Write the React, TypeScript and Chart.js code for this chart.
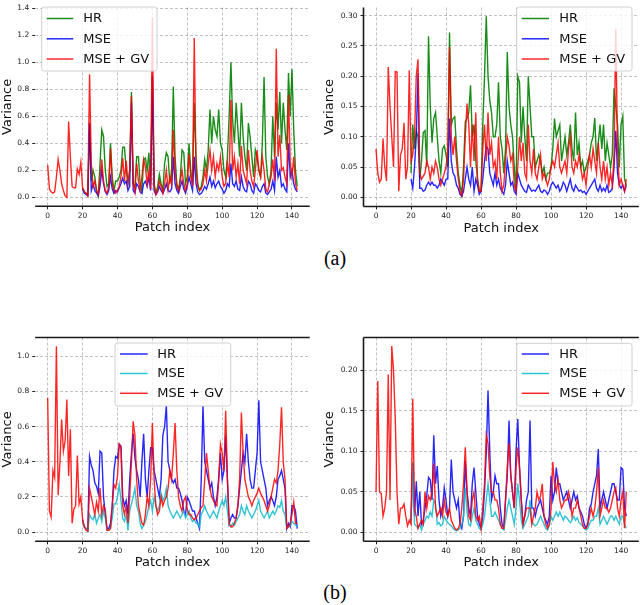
import React, { useEffect, useRef } from "react";
import { Chart, registerables } from "chart.js";

Chart.register(...registerables);

// ---------- data ----------
const SERIES_START = 20; // HR and MSE curves begin at patch 20
const X_TICKS = [0, 20, 40, 60, 80, 100, 120, 140];
const Y_TICKS_A1 = [0, 0.2, 0.4, 0.6, 0.8, 1.0, 1.2, 1.4];
const Y_TICKS_A2 = [0, 0.05, 0.1, 0.15, 0.2, 0.25, 0.3];
const Y_TICKS_B1 = [0, 0.2, 0.4, 0.6, 0.8, 1.0];
const Y_TICKS_B2 = [0, 0.05, 0.1, 0.15, 0.2];
const LABELS = ["HR", "MSE", "MSE + GV"];

// (a) left
const A1_GV = [
  0.24, 0.06, 0.04, 0.03, 0.04, 0.15, 0.28, 0.2, 0.1, 0.05,
  0.01, 0.0, 0.56, 0.3, 0.08, 0.07, 0.07, 0.21, 0.17, 0.26,
  0.07, 0.04, 0.03, 0.01, 0.91, 0.25, 0.08, 0.12, 0.05, 0.02,
  0.15, 0.28, 0.12, 0.05, 0.03, 0.08, 0.36, 0.1, 0.05, 0.03,
  0.05, 0.08, 0.15, 0.29, 0.12, 0.27, 0.1, 0.2, 0.75, 0.1,
  0.04, 0.25, 0.12, 0.05, 0.15, 0.28, 0.22, 0.1, 0.2, 0.06,
  1.33, 0.08, 0.02, 0.05, 0.12, 0.08, 0.03, 0.1, 0.2, 0.06,
  0.15, 0.1, 0.5, 0.2, 0.08, 0.05, 0.12, 0.2, 0.1, 0.05,
  0.1, 0.32, 0.15, 0.08, 1.18, 0.2, 0.08, 0.05, 0.06, 0.1,
  0.2, 0.12, 0.25, 0.35, 0.2, 0.3, 0.15, 0.25, 0.2, 0.3,
  0.15, 0.08, 0.1, 0.25, 0.15, 0.72, 0.2, 0.3, 0.15, 0.25,
  0.1, 0.38, 0.2, 0.15, 0.1, 0.35, 0.2, 0.12, 0.08, 0.2,
  0.35, 0.2, 0.15, 0.3, 0.2, 0.06, 0.04, 0.1, 0.15, 0.28,
  0.12, 1.1, 0.3, 0.46, 0.2, 0.22, 0.15, 0.1, 0.76, 0.25,
  0.15, 0.3, 0.1, 0.05,
];
const A1_HR = [
  0.07, 0.04, 0.03, 0.02, 0.55, 0.12, 0.2, 0.15, 0.05, 0.01,
  0.25, 0.5, 0.45, 0.2, 0.08, 0.1, 0.4, 0.15, 0.05, 0.12,
  0.12, 0.15, 0.2, 0.37, 0.37, 0.2, 0.1, 0.2, 0.78, 0.1,
  0.08, 0.3, 0.3, 0.1, 0.05, 0.28, 0.29, 0.2, 0.33, 0.1,
  0.9, 0.1, 0.03, 0.08, 0.17, 0.1, 0.05, 0.25, 0.33, 0.3,
  0.1, 0.2, 0.82, 0.3, 0.1, 0.05, 0.15, 0.35, 0.33, 0.1,
  0.15, 0.4, 0.2, 0.1, 0.7, 0.3, 0.1, 0.05, 0.08, 0.15,
  0.28, 0.2, 0.35, 0.65, 0.4, 0.6, 0.5, 0.45, 0.65, 0.4,
  0.35, 0.2, 0.15, 0.3, 0.6, 1.0, 0.57, 0.4, 0.7, 0.5,
  0.3, 0.7, 0.45, 0.3, 0.2, 0.55, 0.45, 0.3, 0.15, 0.35,
  0.3, 0.2, 0.15, 0.4, 0.89, 0.3, 0.15, 0.1, 0.2, 0.6,
  0.3, 0.7, 0.5, 0.78, 0.4, 0.7, 0.5, 0.35, 0.92, 0.6,
  0.95, 0.5, 0.2, 0.08,
];
const A1_MSE = [
  0.06, 0.03, 0.02, 0.01, 0.55, 0.05, 0.1, 0.05, 0.03, 0.01,
  0.08, 0.2, 0.1, 0.04, 0.02, 0.05, 0.15, 0.06, 0.03, 0.05,
  0.04, 0.07, 0.1, 0.14, 0.1, 0.12, 0.05, 0.08, 0.7, 0.05,
  0.03, 0.1, 0.08, 0.04, 0.03, 0.1, 0.12, 0.08, 0.15, 0.05,
  0.9, 0.05, 0.02, 0.04, 0.08, 0.05, 0.03, 0.06, 0.1, 0.05,
  0.04, 0.06, 0.3, 0.1, 0.05, 0.03, 0.08, 0.12, 0.06, 0.03,
  0.08, 0.15, 0.1, 0.05, 0.3, 0.1, 0.04, 0.02, 0.03, 0.05,
  0.08, 0.06, 0.1, 0.15, 0.08, 0.12, 0.07, 0.1, 0.12, 0.08,
  0.06, 0.03, 0.05, 0.1, 0.08, 0.25, 0.1, 0.08, 0.12, 0.06,
  0.05, 0.15, 0.08, 0.05, 0.04, 0.12, 0.1, 0.05, 0.03, 0.1,
  0.08, 0.05, 0.04, 0.08, 0.1, 0.03, 0.02, 0.04, 0.06, 0.12,
  0.05, 0.3, 0.15, 0.2, 0.08, 0.1, 0.06, 0.04, 0.4, 0.15,
  0.2, 0.1, 0.06, 0.04,
];

// (a) right
const A2_GV = [
  0.08, 0.04, 0.025, 0.03, 0.097, 0.05, 0.027, 0.215, 0.15, 0.1,
  0.05, 0.208, 0.207, 0.01, 0.07, 0.08, 0.123, 0.03, 0.05, 0.21,
  0.06, 0.07, 0.1, 0.2, 0.228, 0.04, 0.03, 0.035, 0.04, 0.06,
  0.05, 0.03, 0.05, 0.04, 0.06, 0.05, 0.03, 0.02, 0.03, 0.04,
  0.05, 0.08, 0.248, 0.1, 0.07, 0.1, 0.06, 0.03, 0.01, 0.003,
  0.03, 0.1, 0.155, 0.12, 0.05, 0.12, 0.06, 0.14, 0.03, 0.01,
  0.01, 0.08, 0.12, 0.06, 0.14, 0.07, 0.09, 0.05, 0.06, 0.03,
  0.1, 0.04, 0.01, 0.02, 0.06, 0.1, 0.085, 0.06, 0.07, 0.02,
  0.01, 0.05, 0.1, 0.06, 0.09, 0.04, 0.03, 0.12, 0.06, 0.04,
  0.08, 0.04, 0.03, 0.05, 0.07, 0.03, 0.04, 0.03, 0.02, 0.03,
  0.05, 0.06, 0.05, 0.07, 0.09, 0.05, 0.04, 0.05, 0.06, 0.04,
  0.08, 0.1, 0.05, 0.04, 0.06, 0.05, 0.07, 0.05, 0.03, 0.04,
  0.02, 0.05, 0.07, 0.05, 0.08, 0.06, 0.04, 0.09, 0.05, 0.03,
  0.06, 0.03, 0.05, 0.02, 0.04, 0.02, 0.07, 0.278, 0.08, 0.02,
  0.03, 0.02, 0.01, 0.03,
];
const A2_HR = [
  0.04, 0.12, 0.08, 0.11, 0.1, 0.03, 0.06, 0.107, 0.11, 0.05,
  0.266, 0.15, 0.09, 0.13, 0.14, 0.1, 0.06, 0.04, 0.08, 0.085,
  0.07, 0.05, 0.272, 0.12, 0.13, 0.133, 0.08, 0.04, 0.02, 0.005,
  0.05, 0.125, 0.13, 0.14, 0.185, 0.1, 0.12, 0.06, 0.03, 0.01,
  0.01, 0.12, 0.2, 0.299, 0.2, 0.16, 0.14, 0.1, 0.1, 0.12,
  0.19, 0.1, 0.08, 0.04, 0.08, 0.24, 0.15, 0.12, 0.1, 0.05,
  0.01, 0.2, 0.19, 0.09, 0.15, 0.1, 0.06, 0.2, 0.15, 0.1,
  0.1, 0.05, 0.06, 0.07, 0.06, 0.04, 0.05, 0.03, 0.04, 0.04,
  0.05, 0.08, 0.13, 0.1, 0.11, 0.12, 0.06, 0.08, 0.1, 0.07,
  0.09, 0.12, 0.08, 0.06, 0.14, 0.07, 0.09, 0.05, 0.06, 0.04,
  0.05, 0.06, 0.07, 0.09, 0.1, 0.131, 0.06, 0.09, 0.12, 0.08,
  0.12, 0.06, 0.09, 0.07, 0.05, 0.07, 0.18, 0.15, 0.12, 0.05,
  0.12, 0.134, 0.03, 0.02,
];
const A2_MSE = [
  0.03, 0.015, 0.05, 0.1, 0.205, 0.015, 0.015, 0.01, 0.012, 0.02,
  0.025, 0.02, 0.025, 0.02, 0.02, 0.015, 0.02, 0.03, 0.025, 0.02,
  0.03, 0.03, 0.13, 0.06, 0.04, 0.035, 0.02, 0.015, 0.005, 0.002,
  0.01, 0.03, 0.05, 0.03, 0.02, 0.05, 0.01, 0.03, 0.02, 0.005,
  0.01, 0.03, 0.06, 0.085, 0.08, 0.04, 0.03, 0.02, 0.04, 0.02,
  0.03, 0.015, 0.01, 0.005, 0.02, 0.06, 0.04, 0.02, 0.025, 0.01,
  0.005, 0.04, 0.03, 0.02, 0.015, 0.01, 0.008, 0.02, 0.015, 0.01,
  0.012, 0.01, 0.015, 0.02, 0.01, 0.008, 0.012, 0.01, 0.005, 0.01,
  0.02, 0.025, 0.02, 0.015, 0.02, 0.01, 0.015, 0.025, 0.02, 0.01,
  0.02, 0.03, 0.015, 0.01, 0.02, 0.015, 0.01, 0.012, 0.008, 0.01,
  0.005, 0.01, 0.015, 0.02, 0.025, 0.03, 0.015, 0.01, 0.02, 0.01,
  0.015, 0.01, 0.02, 0.008, 0.01, 0.015, 0.05, 0.11, 0.04, 0.02,
  0.015, 0.02, 0.01, 0.02,
];

// (b) left
const B1_GV = [
  0.765, 0.12, 0.085, 0.35, 0.31, 1.057, 0.21, 0.39, 0.64, 0.46,
  0.52, 0.755, 0.32, 0.585, 0.05, 0.13, 0.15, 0.435, 0.16, 0.2,
  0.07, 0.03, 0.01, 0.005, 0.25, 0.2, 0.15, 0.1, 0.17, 0.12,
  0.25, 0.1, 0.15, 0.13, 0.01, 0.01, 0.02, 0.15, 0.27, 0.25,
  0.32, 0.5, 0.48, 0.15, 0.1, 0.15, 0.05, 0.2, 0.4, 0.63,
  0.55, 0.3, 0.15, 0.1, 0.05, 0.04, 0.1, 0.2, 0.15, 0.3,
  0.62, 0.3, 0.15, 0.1, 0.12, 0.2, 0.15, 0.18, 0.2, 0.25,
  0.35, 0.3, 0.45, 0.62, 0.35, 0.2, 0.15, 0.12, 0.18, 0.2,
  0.13, 0.1, 0.1, 0.08, 0.07, 0.08, 0.1, 0.12, 0.14, 0.15,
  0.3, 0.45, 0.35, 0.25, 0.2, 0.18, 0.16, 0.15, 0.3, 0.5,
  0.45, 0.35, 0.69, 0.3, 0.05, 0.03, 0.03, 0.05, 0.08, 0.15,
  0.3, 0.68, 0.45, 0.3, 0.25, 0.2, 0.18, 0.15, 0.18, 0.2,
  0.22, 0.25, 0.22, 0.2, 0.18, 0.15, 0.12, 0.15, 0.2, 0.25,
  0.3, 0.28, 0.35, 0.5, 0.71, 0.4, 0.3, 0.02, 0.03, 0.05,
  0.1, 0.17, 0.05, 0.05,
];
const B1_HR = [
  0.07, 0.03, 0.02, 0.01, 0.43, 0.38, 0.35, 0.28, 0.26, 0.22,
  0.46, 0.45, 0.2, 0.1, 0.02, 0.02, 0.05, 0.15, 0.35, 0.43,
  0.42, 0.5, 0.49, 0.2, 0.15, 0.18, 0.1, 0.3, 0.45, 0.56,
  0.42, 0.35, 0.3, 0.2, 0.4, 0.56, 0.3, 0.2, 0.35, 0.48,
  0.48, 0.35, 0.3, 0.25, 0.2, 0.3, 0.55, 0.6, 0.72, 0.4,
  0.35, 0.3, 0.28, 0.3, 0.25, 0.25, 0.22, 0.18, 0.12, 0.1,
  0.2, 0.18, 0.15, 0.12, 0.12, 0.08, 0.05, 0.02, 0.3, 0.72,
  0.4, 0.35, 0.3, 0.25, 0.28, 0.2, 0.15, 0.2, 0.3, 0.45,
  0.3, 0.35, 0.55, 0.3, 0.05, 0.08, 0.1, 0.08, 0.08, 0.15,
  0.25, 0.35, 0.45, 0.4, 0.56, 0.4, 0.3, 0.25, 0.25, 0.35,
  0.45, 0.75, 0.4, 0.35, 0.3, 0.25, 0.15, 0.18, 0.2, 0.18,
  0.15, 0.2, 0.3, 0.32, 0.35, 0.3, 0.25, 0.02, 0.05, 0.03,
  0.15, 0.15, 0.12, 0.02,
];
const B1_MSE = [
  0.06, 0.03, 0.02, 0.005, 0.1, 0.08, 0.07, 0.1, 0.05, 0.08,
  0.1, 0.06, 0.12, 0.08, 0.01, 0.01, 0.02, 0.08, 0.16, 0.16,
  0.2, 0.27, 0.18, 0.08, 0.06, 0.1, 0.01, 0.12, 0.16, 0.2,
  0.25, 0.15, 0.12, 0.05, 0.02, 0.04, 0.06, 0.1, 0.15, 0.18,
  0.12, 0.2, 0.15, 0.12, 0.15, 0.22, 0.18, 0.2, 0.25, 0.15,
  0.12, 0.1, 0.08, 0.1, 0.12, 0.1, 0.08, 0.1, 0.12, 0.08,
  0.1, 0.12, 0.08, 0.06, 0.07, 0.05, 0.05, 0.03, 0.1, 0.12,
  0.15, 0.12, 0.1, 0.08, 0.1, 0.12, 0.1, 0.08, 0.12, 0.15,
  0.18, 0.15, 0.2, 0.12, 0.04, 0.03, 0.05, 0.04, 0.06, 0.08,
  0.1, 0.15, 0.12, 0.1, 0.15, 0.12, 0.1, 0.08, 0.1, 0.12,
  0.15, 0.18, 0.12, 0.1, 0.08, 0.1, 0.12, 0.08, 0.1, 0.12,
  0.1, 0.12, 0.15, 0.14, 0.18, 0.12, 0.1, 0.02, 0.03, 0.04,
  0.06, 0.05, 0.04, 0.03,
];

// (b) right
const B2_GV = [
  0.05, 0.187, 0.05, 0.048, 0.02, 0.03, 0.05, 0.195, 0.04, 0.23,
  0.2, 0.14, 0.05, 0.01, 0.03, 0.03, 0.035, 0.02, 0.008, 0.015,
  0.01, 0.165, 0.03, 0.02, 0.005, 0.01, 0.015, 0.01, 0.05, 0.03,
  0.045, 0.04, 0.05, 0.085, 0.03, 0.02, 0.025, 0.03, 0.02, 0.04,
  0.025, 0.02, 0.03, 0.015, 0.01, 0.005, 0.003, 0.005, 0.01, 0.03,
  0.06, 0.105, 0.05, 0.02, 0.015, 0.04, 0.05, 0.02, 0.015, 0.02,
  0.005, 0.03, 0.06, 0.12, 0.11, 0.07, 0.05, 0.05, 0.04, 0.04,
  0.03, 0.01, 0.005, 0.005, 0.04, 0.08, 0.11, 0.07, 0.05, 0.03,
  0.08, 0.105, 0.08, 0.04, 0.01, 0.02, 0.03, 0.03, 0.03, 0.01,
  0.02, 0.03, 0.05, 0.04, 0.045, 0.06, 0.02, 0.01, 0.005, 0.01,
  0.03, 0.087, 0.06, 0.05, 0.065, 0.04, 0.03, 0.035, 0.04, 0.04,
  0.05, 0.04, 0.02, 0.03, 0.03, 0.04, 0.03, 0.02, 0.01, 0.005,
  0.005, 0.01, 0.02, 0.03, 0.02, 0.03, 0.05, 0.08, 0.02, 0.03,
  0.04, 0.03, 0.03, 0.025, 0.03, 0.04, 0.05, 0.055, 0.03, 0.02,
  0.04, 0.05, 0.005, 0.05,
];
const B2_HR = [
  0.015, 0.085, 0.02, 0.063, 0.02, 0.05, 0.01, 0.015, 0.03, 0.045,
  0.068, 0.065, 0.04, 0.12, 0.06, 0.082, 0.04, 0.02, 0.03, 0.055,
  0.04, 0.02, 0.03, 0.09, 0.05, 0.04, 0.03, 0.04, 0.01, 0.005,
  0.02, 0.088, 0.05, 0.03, 0.02, 0.06, 0.08, 0.05, 0.02, 0.01,
  0.005, 0.02, 0.05, 0.1, 0.175, 0.1, 0.04, 0.05, 0.07, 0.06,
  0.06, 0.03, 0.01, 0.005, 0.04, 0.07, 0.138, 0.07, 0.05, 0.03,
  0.1, 0.14, 0.08, 0.04, 0.01, 0.02, 0.04, 0.05, 0.138, 0.03,
  0.03, 0.02, 0.03, 0.035, 0.04, 0.03, 0.02, 0.015, 0.01, 0.02,
  0.07, 0.04, 0.05, 0.08, 0.06, 0.06, 0.05, 0.04, 0.045, 0.05,
  0.04, 0.03, 0.04, 0.05, 0.04, 0.045, 0.03, 0.025, 0.02, 0.01,
  0.005, 0.01, 0.03, 0.035, 0.05, 0.06, 0.07, 0.103, 0.03, 0.04,
  0.05, 0.04, 0.03, 0.04, 0.05, 0.06, 0.06, 0.05, 0.04, 0.04,
  0.08, 0.078, 0.03, 0.02,
];
const B2_MSE = [
  0.012, 0.087, 0.01, 0.008, 0.005, 0.01, 0.003, 0.01, 0.015, 0.02,
  0.018, 0.025, 0.02, 0.04, 0.035, 0.01, 0.012, 0.008, 0.01, 0.02,
  0.015, 0.012, 0.01, 0.008, 0.005, 0.003, 0.002, 0.003, 0.005, 0.01,
  0.02, 0.055, 0.025, 0.01, 0.008, 0.02, 0.03, 0.015, 0.01, 0.005,
  0.003, 0.01, 0.02, 0.04, 0.06, 0.04, 0.02, 0.02, 0.025, 0.02,
  0.015, 0.01, 0.005, 0.003, 0.015, 0.03, 0.04, 0.03, 0.02, 0.01,
  0.03, 0.06, 0.04, 0.015, 0.005, 0.01, 0.015, 0.02, 0.04, 0.015,
  0.01, 0.008, 0.01, 0.015, 0.02, 0.015, 0.01, 0.005, 0.003, 0.008,
  0.02, 0.015, 0.02, 0.025, 0.02, 0.025, 0.02, 0.015, 0.02, 0.018,
  0.015, 0.012, 0.015, 0.02, 0.015, 0.018, 0.012, 0.01, 0.008, 0.005,
  0.003, 0.005, 0.01, 0.015, 0.015, 0.02, 0.02, 0.03, 0.01, 0.015,
  0.02, 0.015, 0.01, 0.015, 0.02, 0.02, 0.015, 0.02, 0.015, 0.01,
  0.02, 0.02, 0.01, 0.005,
];

// ---------- styling ----------
const FONT = "'DejaVu Sans', sans-serif";
const GREEN = "rgba(0,128,0,0.9)";
const BLUE = "rgba(0,0,255,0.85)";
const RED = "rgba(255,0,0,0.85)";
const CYAN = "rgba(23,190,207,0.9)";
const X_AXIS_H = 30;

type Legend = { x: number; y: number; w: number; h: number; rows: number[]; lx1: number; lx2: number; tx: number };
type Panel = {
  key: string;
  left: number; top: number; width: number; height: number;
  area: { l: number; t: number; r: number; b: number };
  yMin: number; yMax: number; yTicks: number[]; digits: number; titlePad: number;
  gv: number[]; hr: number[]; mse: number[]; colors: string[];
  spines: string[]; legend: Legend;
};

const toPoints = (vals: number[], start: number) => vals.map((y, i) => ({ x: start + i, y }));

const PANELS: Panel[] = [
  {
    key: "a1", left: 0, top: 0, width: 320, height: 240,
    area: { l: 35.2, t: 2.4, r: 309.7, b: 206.3 },
    yMin: -0.067, yMax: 1.405, yTicks: Y_TICKS_A1, digits: 1, titlePad: 0,
    gv: A1_GV, hr: A1_HR, mse: A1_MSE, colors: [GREEN, BLUE, RED],
    spines: ["bottom"],
    legend: { x: 41.7, y: 7, w: 115.3, h: 64, rows: [18.5, 38.8, 59], lx1: 46.7, lx2: 73.3, tx: 83.3 },
  },
  {
    key: "a2", left: 320, top: 0, width: 320, height: 240,
    area: { l: 43.5, t: 1, r: 318.8, b: 206.5 },
    yMin: -0.0152, yMax: 0.3135, yTicks: Y_TICKS_A2, digits: 2, titlePad: 2,
    gv: A2_GV, hr: A2_HR, mse: A2_MSE, colors: [GREEN, BLUE, RED],
    spines: ["left", "bottom"],
    legend: { x: 196.7, y: 7, w: 115.3, h: 64, rows: [18.5, 38.8, 59], lx1: 201.7, lx2: 229, tx: 239.3 },
  },
  {
    key: "b1", left: 0, top: 330, width: 320, height: 245,
    area: { l: 35.2, t: 6, r: 309.7, b: 211.3 },
    yMin: -0.0525, yMax: 1.1074, yTicks: Y_TICKS_B1, digits: 1, titlePad: 0,
    gv: B1_GV, hr: B1_HR, mse: B1_MSE, colors: [BLUE, CYAN, RED],
    spines: ["top", "bottom"],
    legend: { x: 115, y: 13, w: 115.7, h: 63, rows: [24, 43.5, 63.3], lx1: 120, lx2: 147.7, tx: 157.3 },
  },
  {
    key: "b2", left: 320, top: 330, width: 320, height: 245,
    area: { l: 43.5, t: 6, r: 318.8, b: 211.3 },
    yMin: -0.011, yMax: 0.2406, yTicks: Y_TICKS_B2, digits: 2, titlePad: 2,
    gv: B2_GV, hr: B2_HR, mse: B2_MSE, colors: [BLUE, CYAN, RED],
    spines: ["left", "top", "bottom"],
    legend: { x: 196.7, y: 13.3, w: 115.3, h: 62.7, rows: [24, 43.5, 63.3], lx1: 201.7, lx2: 229, tx: 239.3 },
  },
];

const framePlugin = {
  id: "frame",
  afterDraw(chart: any, _args: any, opts: any) {
    const { ctx, chartArea } = chart;
    const { left, right, top, bottom } = chartArea;
    ctx.save();
    ctx.strokeStyle = "#1a1a1a";
    ctx.lineWidth = 1.6;
    for (const s of opts.spines || []) {
      ctx.beginPath();
      if (s === "left") { ctx.moveTo(left, top); ctx.lineTo(left, bottom); }
      if (s === "bottom") { ctx.moveTo(left, bottom); ctx.lineTo(right, bottom); }
      if (s === "top") { ctx.moveTo(left, top); ctx.lineTo(right, top); }
      if (s === "right") { ctx.moveTo(right, top); ctx.lineTo(right, bottom); }
      ctx.stroke();
    }
    const lg: Legend = opts.legend;
    if (lg) {
      const r = 2.5;
      ctx.beginPath();
      ctx.moveTo(lg.x + r, lg.y);
      ctx.lineTo(lg.x + lg.w - r, lg.y);
      ctx.quadraticCurveTo(lg.x + lg.w, lg.y, lg.x + lg.w, lg.y + r);
      ctx.lineTo(lg.x + lg.w, lg.y + lg.h - r);
      ctx.quadraticCurveTo(lg.x + lg.w, lg.y + lg.h, lg.x + lg.w - r, lg.y + lg.h);
      ctx.lineTo(lg.x + r, lg.y + lg.h);
      ctx.quadraticCurveTo(lg.x, lg.y + lg.h, lg.x, lg.y + lg.h - r);
      ctx.lineTo(lg.x, lg.y + r);
      ctx.quadraticCurveTo(lg.x, lg.y, lg.x + r, lg.y);
      ctx.closePath();
      ctx.fillStyle = "rgba(255,255,255,0.8)";
      ctx.fill();
      ctx.strokeStyle = "#d0d0d0";
      ctx.lineWidth = 1;
      ctx.stroke();
      const dsets = chart.data.datasets;
      ctx.font = `13px ${FONT}`;
      ctx.textBaseline = "middle";
      ctx.textAlign = "left";
      dsets.forEach((ds: any, i: number) => {
        const y = lg.rows[i];
        ctx.strokeStyle = ds.borderColor;
        ctx.lineWidth = 1.5;
        ctx.beginPath();
        ctx.moveTo(lg.lx1, y);
        ctx.lineTo(lg.lx2, y);
        ctx.stroke();
        ctx.fillStyle = "#111";
        ctx.fillText(ds.label, lg.tx, y + 0.5);
      });
    }
    ctx.restore();
  },
};

function PanelChart({ p }: { p: Panel }) {
  const ref = useRef<HTMLCanvasElement | null>(null);
  useEffect(() => {
    if (!ref.current) return;
    const series = [
      { label: LABELS[0], data: toPoints(p.hr, SERIES_START), color: p.colors[0], order: 3 },
      { label: LABELS[1], data: toPoints(p.mse, SERIES_START), color: p.colors[1], order: 2 },
      { label: LABELS[2], data: toPoints(p.gv, 0), color: p.colors[2], order: 1 },
    ];
    const tickFont = { family: FONT, size: 7.5 };
    const grid = {
      color: "rgba(0,0,0,0.3)",
      lineWidth: 0.8,
      drawTicks: true,
      tickLength: 3,
      tickColor: "#222",
      tickWidth: 1,
      tickBorderDash: [],
    };
    const chart = new Chart(ref.current, {
      type: "line",
      data: {
        datasets: series.map((s) => ({
          label: s.label,
          data: s.data,
          borderColor: s.color,
          backgroundColor: s.color,
          borderWidth: 1.4,
          pointRadius: 0,
          tension: 0,
          fill: false,
          order: s.order,
        })),
      },
      options: {
        responsive: false,
        animation: false,
        events: [],
        layout: {
          padding: {
            left: 0,
            top: p.area.t,
            right: p.width - p.area.r,
            bottom: p.height - p.area.b - X_AXIS_H,
          },
        },
        plugins: {
          legend: { display: false },
          tooltip: { enabled: false },
          frame: { spines: p.spines, legend: p.legend },
        } as any,
        scales: {
          x: {
            type: "linear",
            min: -7.15,
            max: 150.15,
            afterFit: (s: any) => { s.height = X_AXIS_H; },
            afterBuildTicks: (s: any) => { s.ticks = X_TICKS.map((v) => ({ value: v })); },
            grid,
            border: { display: false, dash: [3, 2] },
            ticks: {
              font: tickFont,
              color: "#222",
              padding: 2,
              maxRotation: 0,
              autoSkip: false,
              callback: (v: any) => String(v),
            },
            title: {
              display: true,
              text: "Patch index",
              font: { family: FONT, size: 13 },
              color: "#111",
              padding: { top: 0, bottom: 0.5 },
            },
          },
          y: {
            type: "linear",
            min: p.yMin,
            max: p.yMax,
            afterFit: (s: any) => { s.width = p.area.l; },
            afterBuildTicks: (s: any) => { s.ticks = p.yTicks.map((v) => ({ value: v })); },
            grid,
            border: { display: false, dash: [3, 2] },
            ticks: {
              font: tickFont,
              color: "#222",
              padding: 3,
              autoSkip: false,
              callback: (v: any) => Number(v).toFixed(p.digits),
            },
            title: {
              display: true,
              text: "Variance",
              font: { family: FONT, size: 13 },
              color: "#111",
              padding: { top: p.titlePad, bottom: 0 },
            },
          },
        },
      } as any,
      plugins: [framePlugin as any],
    });
    return () => chart.destroy();
  }, [p]);
  return (
    <canvas
      ref={ref}
      width={p.width}
      height={p.height}
      style={{ position: "absolute", left: p.left, top: p.top, width: p.width, height: p.height }}
    />
  );
}

export default function App() {
  useEffect(() => {
    document.body.style.margin = "0";
  }, []);
  const caption: React.CSSProperties = {
    position: "absolute",
    left: 0,
    width: 670,
    textAlign: "center",
    fontFamily: "'Liberation Serif', 'Times New Roman', serif",
    fontSize: 20,
    lineHeight: "20px",
    color: "#000",
  };
  return (
    <div style={{ position: "relative", width: 640, height: 605, background: "#fff", overflow: "hidden" }}>
      {PANELS.map((p) => (
        <PanelChart key={p.key} p={p} />
      ))}
      <div style={{ ...caption, top: 248 }}>(a)</div>
      <div style={{ ...caption, top: 582 }}>(b)</div>
    </div>
  );
}
